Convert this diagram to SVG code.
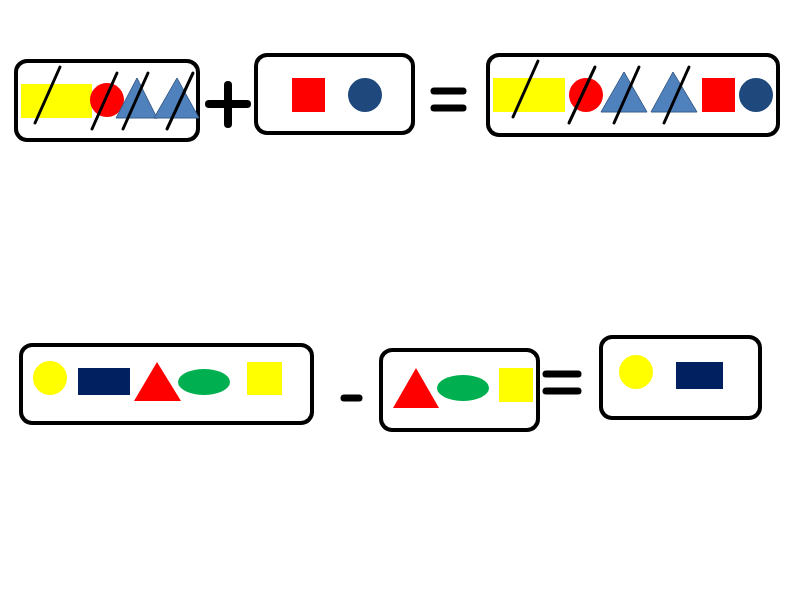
<svg xmlns="http://www.w3.org/2000/svg" width="800" height="600" viewBox="0 0 800 600">
<style>
.box{fill:#fff;stroke:#000;stroke-width:4}
.yel{fill:#ffff00}
.red{fill:#ff0000}
.tri{fill:#4f81bd;stroke:#385d8a;stroke-width:1}
.blu{fill:#1f497d}
.navy{fill:#002060}
.grn{fill:#00b050}
.slash{stroke:#000;stroke-width:3;stroke-linecap:round}
.op{stroke:#000;stroke-width:8;stroke-linecap:round}
.op2{stroke:#000;stroke-width:7;stroke-linecap:round}
</style>
<rect width="800" height="600" fill="#fff"/>
<g id="box1">
<rect class="box" x="16" y="61" width="182" height="79" rx="11"/>
<rect class="yel" x="21" y="84" width="71" height="34"/>
<circle class="red" cx="107" cy="100" r="17"/>
<polygon class="tri" points="137,78 157,118 116,118"/>
<polygon class="tri" points="177,78 199,118 154,118"/>
<line class="slash" x1="35" y1="123" x2="60" y2="67"/>
<line class="slash" x1="92" y1="129" x2="117" y2="73"/>
<line class="slash" x1="123" y1="129" x2="148" y2="73"/>
<line class="slash" x1="167" y1="129" x2="193" y2="73"/>
</g>
<g id="plus">
<line class="op" x1="209" y1="104" x2="247" y2="104"/>
<line class="op" x1="228" y1="85" x2="228" y2="124"/>
</g>
<g id="box2">
<rect class="box" x="256" y="55" width="157" height="78" rx="11"/>
<rect class="red" x="292" y="78" width="33" height="34"/>
<circle class="blu" cx="365" cy="95" r="17"/>
</g>
<g id="equals1">
<line class="op2" x1="434" y1="91" x2="463" y2="91"/>
<line class="op2" x1="434" y1="108" x2="463" y2="108"/>
</g>
<g id="box3">
<rect class="box" x="488" y="55" width="290" height="80" rx="11"/>
<rect class="yel" x="493" y="78" width="72" height="34"/>
<circle class="red" cx="586" cy="95" r="17"/>
<polygon class="tri" points="624,72 647,112 601,112"/>
<polygon class="tri" points="673,72 697,112 651,112"/>
<rect class="red" x="702" y="78" width="33" height="34"/>
<circle class="blu" cx="756" cy="95" r="17"/>
<line class="slash" x1="513" y1="117" x2="538" y2="61"/>
<line class="slash" x1="569" y1="123" x2="595" y2="67"/>
<line class="slash" x1="614" y1="123" x2="639" y2="67"/>
<line class="slash" x1="664" y1="123" x2="689" y2="67"/>
</g>
<g id="box4">
<rect class="box" x="21" y="345" width="291" height="78" rx="11"/>
<circle class="yel" cx="50" cy="378" r="17"/>
<rect class="navy" x="78" y="368" width="52" height="27"/>
<polygon class="red" points="157,362 181,401 134,401"/>
<ellipse class="grn" cx="204" cy="382" rx="26" ry="13"/>
<rect class="yel" x="247" y="362" width="35" height="33"/>
</g>
<g id="minus">
<line class="op2" x1="344" y1="398" x2="359" y2="398"/>
</g>
<g id="box5">
<rect class="box" x="381" y="350" width="157" height="80" rx="11"/>
<polygon class="red" points="416,368 439,408 393,408"/>
<ellipse class="grn" cx="463" cy="388" rx="26" ry="13"/>
<rect class="yel" x="499" y="368" width="34" height="34"/>
</g>
<g id="equals2">
<line class="op2" x1="546" y1="374" x2="578" y2="374"/>
<line class="op2" x1="546" y1="391" x2="578" y2="391"/>
</g>
<g id="box6">
<rect class="box" x="601" y="337" width="159" height="81" rx="11"/>
<circle class="yel" cx="636" cy="372" r="17"/>
<rect class="navy" x="676" y="362" width="47" height="27"/>
</g>
</svg>
